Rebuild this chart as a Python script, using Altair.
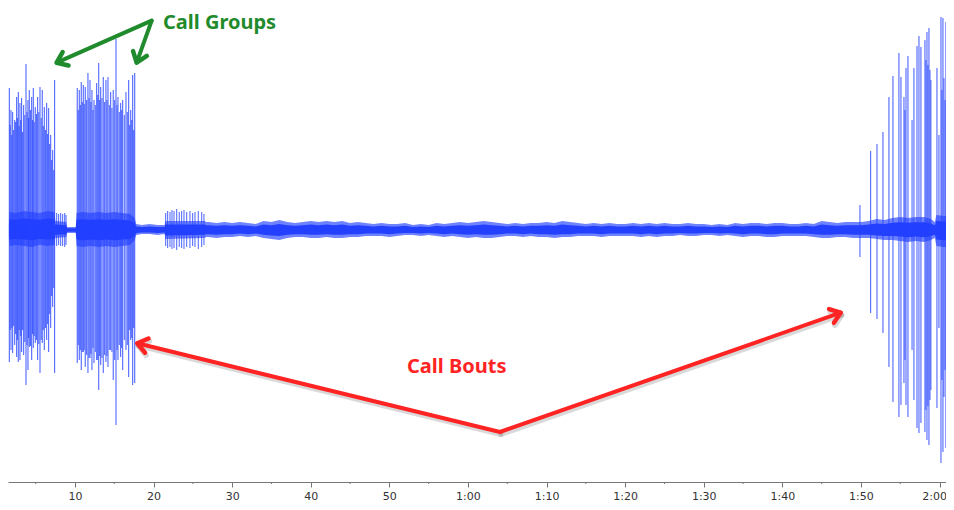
import math
import pandas as pd
import altair as alt

# ---------------- data (seconds / relative amplitude) ----------------
# background noise envelope
noise_t = [1.6, 1.7, 2.5, 3.5, 4.5, 5.5, 6.5, 7.4, 7.5, 8.9, 9.0, 9.5, 10.1, 10.2,
           11, 12, 13, 14, 15, 16, 17, 17.6, 17.8, 18.5, 19.5, 20.5, 21.4, 21.5,
           26.5, 26.7,
           27, 28, 29, 30, 31, 32, 33, 34, 35, 36, 37, 38, 39, 40, 41, 42, 43, 44,
           45, 46, 47, 48, 49, 50, 51, 52, 53, 54, 55, 56, 57, 58, 59, 60, 61, 62,
           63, 64, 65, 66, 67, 68, 69, 70, 71, 72, 73, 74, 75, 76, 77, 78, 79, 80,
           81, 82, 83, 84, 85, 86, 87, 88, 89, 90, 91, 92, 93, 94, 95, 96, 97, 98,
           99, 100, 101, 102, 103, 104, 105, 106, 107, 108, 109,
           110, 111, 112, 113, 114, 115, 116, 117, 118, 118.9, 119.4, 119.6, 120.5,
           121.6, 121.8]
noise_top = [10, 18, 17, 19, 18, 17, 19, 18, 9, 8, 3, 3, 3, 17,
             18, 17, 18, 17, 18, 17, 16, 12, 6, 5, 6, 5, 5, 9,
             9, 8,
             8, 7, 8, 7, 8, 7, 6, 9, 8, 10, 8, 7, 8, 9, 8, 9, 8, 9,
             7, 8, 7, 6, 7, 6, 6, 7, 5, 6, 5, 7, 6, 7, 8, 7, 8, 9,
             8, 7, 6, 7, 6, 7, 7, 8, 7, 9, 8, 7, 6, 7, 6, 7, 6, 6,
             7, 6, 7, 6, 7, 6, 6, 7, 6, 6, 5, 6, 5, 7, 6, 7, 7, 6,
             7, 7, 6, 6, 7, 6, 9, 8, 7, 8, 8,
             8, 9, 11, 10, 12, 13, 12, 13, 13, 11, 8, 15, 14,
             15, 10]
noise_bot = [-10, -16, -15, -16, -17, -15, -16, -15, -8, -7, -3, -3, -3, -16,
             -17, -16, -17, -16, -17, -16, -15, -10, -5, -4, -4, -5, -4, -9,
             -8, -7,
             -7, -8, -7, -7, -6, -7, -6, -8, -9, -10, -8, -7, -7, -8, -8, -7, -8, -8,
             -7, -7, -6, -6, -6, -7, -6, -5, -5, -6, -5, -6, -7, -6, -7, -8, -7, -8,
             -8, -7, -6, -6, -7, -6, -7, -7, -8, -7, -7, -6, -6, -6, -7, -6, -6, -6,
             -6, -7, -6, -7, -6, -6, -5, -6, -6, -5, -5, -6, -5, -6, -7, -6, -6, -7,
             -7, -6, -6, -6, -6, -7, -8, -8, -7, -7, -8,
             -8, -8, -9, -10, -10, -11, -12, -11, -12, -10, -8, -16, -17,
             -17, -10]

# call group 1 spikes
g1_t = [1.65, 1.86, 2.07, 2.33, 2.58, 2.79, 3.00, 3.21, 3.47, 3.77, 4.02, 4.19,
        4.49, 4.70, 4.95, 5.25, 5.55, 5.84, 6.10, 6.40, 6.65, 6.91, 7.16, 7.41]
g1_top = [142, 120, 118, 110, 133, 138, 127, 132, 125, 166, 130, 140,
          133, 142, 123, 133, 143, 140, 123, 127, 122, 95, 80, 150]
g1_bot = [-132, -120, -123, -115, -127, -132, -130, -122, -125, -155, -140, -117,
          -130, -118, -113, -130, -143, -113, -120, -110, -122, -98, -77, -143]

# call group 2 spikes
g2_t = [10.29, 10.55, 10.80, 11.06, 11.31, 11.65, 11.91, 12.16, 12.42, 12.76,
        13.02, 13.27, 13.60, 13.94, 14.20, 14.54, 14.87, 15.22, 15.47, 15.81,
        16.07, 16.49, 16.83, 17.09, 17.34, 17.60]
g2_top = [142, 140, 148, 145, 143, 157, 150, 140, 130, 147,
          167, 143, 153, 150, 153, 138, 140, 191, 133, 127,
          130, 138, 150, 120, 155, 157]
g2_bot = [-133, -130, -140, -122, -137, -143, -128, -140, -133, -130,
          -160, -135, -143, -132, -137, -120, -150, -195, -130, -127,
          -140, -120, -147, -110, -155, -153]

# dense inner calls of the groups and of the bout
inner_t = [1.75, 1.96, 2.2, 2.45, 2.68, 2.9, 3.1, 3.34, 3.62, 3.9, 4.1, 4.34,
           4.6, 4.82, 5.1, 5.4, 5.7, 5.97, 6.25, 6.52, 6.78, 7.03, 7.3,
           10.42, 10.68, 10.93, 11.18, 11.48, 11.78, 12.03, 12.29, 12.59, 12.89,
           13.14, 13.43, 13.77, 14.07, 14.37, 14.7, 15.05, 15.35, 15.64, 15.94,
           16.28, 16.66, 16.96, 17.22, 17.47,
           115.6, 116.5, 118.27, 118.52, 118.78, 118.9, 120.3, 120.7]
inner_top = [105, 95, 100, 108, 112, 104, 110, 98, 115, 118, 112, 120,
             110, 108, 116, 118, 112, 104, 100, 96, 86, 70, 60,
             120, 125, 128, 126, 130, 132, 128, 120, 125, 135,
             130, 132, 128, 130, 125, 122, 130, 125, 118, 120,
             115, 118, 105, 110, 100,
             120, 110, 170, 165, 160, 150, 140, 130]
inner_bot = [-100, -98, -96, -104, -110, -100, -106, -100, -112, -115, -108, -116,
             -104, -106, -110, -114, -110, -100, -98, -94, -84, -66, -58,
             -115, -120, -122, -120, -125, -128, -124, -118, -122, -130,
             -126, -128, -125, -126, -120, -122, -130, -120, -115, -118,
             -110, -115, -100, -108, -98,
             -130, -120, -180, -176, -170, -160, -150, -140]

# short bursts after the groups
burst_t = [7.67, 7.92, 8.18, 8.43, 8.69, 8.86,
           21.54, 21.79, 22.09, 22.34, 22.6, 22.94, 23.27, 23.57, 23.87, 24.21,
           24.63, 24.97, 25.27, 25.69, 26.12, 26.41]
burst_top = [17, 16, 17, 16, 17, 15,
             17, 19, 18, 20, 19, 21, 18, 19, 20, 18, 19, 17, 18, 19, 18, 16]
burst_bot = [-16, -15, -16, -16, -17, -15,
             -16, -18, -17, -19, -18, -20, -17, -18, -19, -17, -18, -16, -17, -19, -17, -15]

# call bout on the right
b3_t = [109.87, 111.23, 112.04, 112.80, 113.56, 114.07, 114.83, 115.09, 115.47,
        115.73, 115.98, 116.74, 117.13, 117.38, 117.63, 118.14, 118.40, 118.65,
        119.67, 119.92, 120.18, 120.43, 120.56, 120.81, 121.07, 121.20, 121.58]
b3_top = [25, 79, 86, 98, 133, 154, 177, 153, 133, 162, 174, 162, 184, 194, 183,
          190, 198, 202, 162, 95, 213, 212, 152, 208, 150, 97, 117]
b3_bot = [-27, -83, -89, -103, -137, -172, -187, -175, -153, -175, -187, -170,
          -198, -203, -193, -202, -210, -215, -178, -98, -233, -222, -167, -218,
          -160, -100, -137]

# axis ticks
major_ticks = [10, 20, 30, 40, 50, 60, 70, 80, 90, 100, 110, 120]
minor_ticks = [5, 15, 25, 35, 45, 55, 65, 75, 85, 95, 105, 115]

# annotations (time, amplitude)
green_label = ["Call Groups"]
green_label_pos = (21.2, 200.8)
green_origin = (19.76, 209.3)
green_tips = [(7.67, 167.3), (17.85, 167.3)]
red_label = ["Call Bouts"]
red_label_pos = (52.24, -143.0)
red_origin = (64.07, -202.0)
red_tips = [(17.93, -113.3), (107.42, -82.7)]

# ---------------- layout ----------------
T_MIN, T_MAX = 1.48, 120.82
A_MIN, A_MAX = -252, 222
W, H = 938, 474
BLUE = "#2340ff"
GREEN = "#1f8b2c"
RED = "#ff2424"

assert len(noise_t) == len(noise_top) == len(noise_bot)

noise_df = pd.DataFrame({"t": noise_t, "top": noise_top, "bot": noise_bot})
frames = []
for kind, ts, tops, bots in [("spike", g1_t, g1_top, g1_bot),
                             ("spike", g2_t, g2_top, g2_bot),
                             ("spike", b3_t, b3_top, b3_bot),
                             ("inner", inner_t, inner_top, inner_bot),
                             ("burst", burst_t, burst_top, burst_bot)]:
    frames.append(pd.DataFrame({"t": ts, "top": tops, "bot": bots, "kind": kind}))
spike_df = pd.concat(frames, ignore_index=True)

xscale = alt.Scale(domain=[T_MIN, T_MAX], nice=False, zero=False)
yscale = alt.Scale(domain=[A_MIN, A_MAX], nice=False, zero=False)
label_expr = ("datum.value < 60 ? datum.value + '' : floor(datum.value / 60) + ':' + "
              "(datum.value % 60 < 10 ? '0' : '') + (datum.value % 60)")
xaxis = alt.Axis(values=major_ticks, labelExpr=label_expr, title=None, grid=False,
                 tickSize=5, labelPadding=3, labelFont="DejaVu Sans", labelFontSize=11,
                 labelColor="#333333", domainColor="#777777", tickColor="#777777",
                 labelFlush=8, labelFlushOffset=7)


def X(field):
    return alt.X(field, type="quantitative", scale=xscale, axis=xaxis)


def Y(field):
    return alt.Y(field, type="quantitative", scale=yscale, axis=None)


outer = alt.Chart(noise_df).mark_area(color=BLUE, opacity=0.65, clip=True).encode(
    x=X("t"), y=Y("top"), y2="bot")
core = alt.Chart(noise_df).transform_calculate(
    ct="datum.top * 0.6", cb="datum.bot * 0.6").mark_area(color=BLUE, clip=True).encode(
    x=X("t"), y=Y("ct"), y2="cb")
spikes = alt.Chart(spike_df).mark_rule(color=BLUE, strokeWidth=1.1, clip=True).encode(
    x=X("t"), y=Y("top"), y2="bot",
    opacity=alt.Opacity("kind:N", scale=alt.Scale(domain=["spike", "inner", "burst"],
                                                  range=[0.8, 0.75, 0.6]), legend=None))

minor = alt.Chart(pd.DataFrame({"t": minor_ticks})).mark_rule(
    color="#777777", strokeWidth=1).encode(x=X("t"), y=alt.value(H), y2=alt.value(H + 2))

kx = W / (T_MAX - T_MIN)
ky = H / (A_MAX - A_MIN)


def arrows(origin, tips, color, shadow=False):
    rows = []
    for tx, ta in tips:
        dx = (tx - origin[0]) * kx
        dy = -(ta - origin[1]) * ky
        ang = math.degrees(math.atan2(dy, dx)) % 360
        rows.append({"x1": origin[0], "y1": origin[1], "x2": tx, "y2": ta, "ang": ang})
    df = pd.DataFrame(rows)
    head_shape = "M -1 -0.75 L 0 0 L -1 0.75"
    layers = []
    if shadow:
        layers.append(alt.Chart(df).mark_rule(
            color="#000000", opacity=0.15, strokeWidth=5, strokeCap="round",
            xOffset=1, x2Offset=1, yOffset=2.5, y2Offset=2.5).encode(
            x=X("x1"), y=Y("y1"), x2="x2", y2="y2"))
        layers.append(alt.Chart(df).mark_point(
            shape=head_shape, filled=False, color="#000000", opacity=0.15,
            strokeWidth=5.5, size=380, strokeCap="round", strokeJoin="round",
            xOffset=1, yOffset=2.5).encode(
            x=X("x2"), y=Y("y2"), angle=alt.Angle("ang:Q", scale=None)))
    layers.append(alt.Chart(df).mark_rule(color=color, strokeWidth=4, strokeCap="round").encode(
        x=X("x1"), y=Y("y1"), x2="x2", y2="y2"))
    layers.append(alt.Chart(df).mark_point(
        shape=head_shape, filled=False, color=color, opacity=1,
        strokeWidth=4.5, size=380, strokeCap="round", strokeJoin="round").encode(
        x=X("x2"), y=Y("y2"), angle=alt.Angle("ang:Q", scale=None)))
    return alt.layer(*layers)


green_arrows = arrows(green_origin, green_tips, GREEN)
red_arrows = arrows(red_origin, red_tips, RED, shadow=True)

green_text = alt.Chart(pd.DataFrame({"t": [green_label_pos[0]], "a": [green_label_pos[1]],
                                     "label": green_label})).mark_text(
    font="Noto Sans", fontWeight="bold", fontSize=20, color=GREEN, align="left",
    baseline="alphabetic").encode(x=X("t"), y=Y("a"), text="label")
red_text = alt.Chart(pd.DataFrame({"t": [red_label_pos[0]], "a": [red_label_pos[1]],
                                   "label": red_label})).mark_text(
    font="Noto Sans", fontWeight="bold", fontSize=20, color=RED, align="left",
    baseline="alphabetic").encode(x=X("t"), y=Y("a"), text="label")

chart = alt.layer(outer, core, spikes, minor, green_arrows, red_arrows,
                  green_text, red_text).properties(
    width=W, height=H,
    autosize=alt.AutoSizeParams(type="none"),
    padding={"left": 0, "top": 0, "right": 0, "bottom": 20},
).configure_view(stroke=None)

chart.save("out.html", embed_options={"renderer": "svg", "actions": False})
